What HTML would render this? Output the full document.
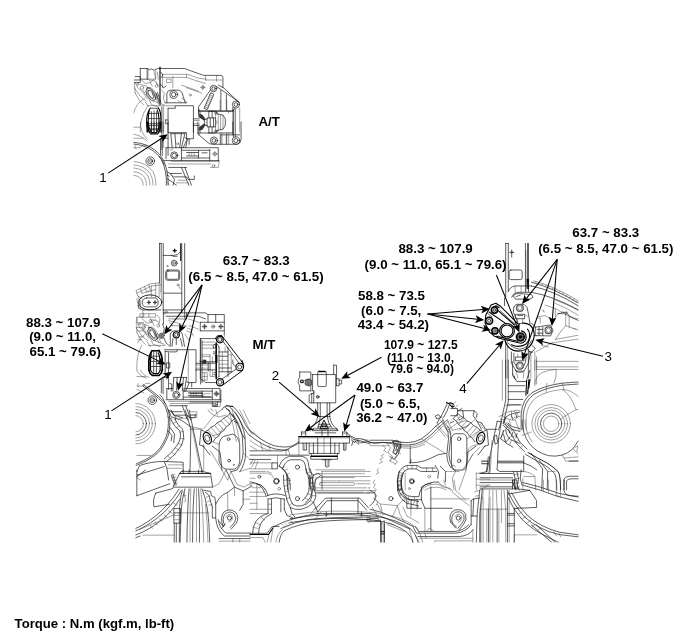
<!DOCTYPE html>
<html><head><meta charset="utf-8"><title>Torque</title>
<style>
html,body{margin:0;padding:0;background:#fff;}
svg{display:block}
svg text{font-family:"Liberation Sans",Arial,sans-serif;fill:#000}
.d,.k,.l,.w,.b,.g{vector-effect:non-scaling-stroke;stroke-linejoin:round;stroke-linecap:round}
.d{fill:none;stroke:#1a1a1a;stroke-width:.7}
.k{fill:none;stroke:#000;stroke-width:1.1}
.l{fill:none;stroke:#444;stroke-width:.5}
.w{fill:#fff;stroke:#1a1a1a;stroke-width:.7}
.b{fill:#000;stroke:#000;stroke-width:.5}
.g{fill:#888;stroke:#000;stroke-width:.6}
</style></head><body>
<svg width="700" height="637" viewBox="0 0 700 637">
<rect width="700" height="637" fill="#fff"/>
<defs><clipPath id="cm"><rect x="135.5" y="240" width="443" height="302.5"/></clipPath><clipPath id="ci"><rect x="133.5" y="64" width="112" height="121.5"/></clipPath></defs>
<g clip-path="url(#ci)">
<g transform="translate(130,62) scale(0.171429)">
<!-- top contour -->
<path class="d" d="M60,38 H105 L112,46 L125,40 L140,48 L160,38 H320 L350,50 L430,78 H535 L542,90 V150"/>
<path class="d" d="M60,38 V100 M100,40 V100 M60,100 H105 M30,85 H60 V120 H25 M25,105 H60"/>
<path class="l" d="M190,72 H335 L400,95 L445,100 M190,72 V150 M190,90 H330 L395,112 M215,100 H240 V120 H215 Z M250,85 V150 M330,90 V72"/>
<path class="l" d="M440,78 V105 M505,78 V112 M440,105 H535 M300,135 L400,170 M330,150 L420,182 M395,112 L440,125"/>
<path class="k" d="M175,30 V250"/>
<path class="d" d="M180,60 L192,75 L183,90 M178,130 L195,150 L210,140"/>
<!-- crosshair small -->
<circle class="l" cx="425" cy="148" r="9"/><path class="l" d="M412,148 H438 M425,135 V161"/>
<circle class="l" cx="352" cy="193" r="6"/>
<!-- bracket right with bolts -->
<circle class="d" cx="487" cy="155" r="19"/><circle class="d" cx="487" cy="155" r="10"/>
<circle class="d" cx="618" cy="248" r="21"/><circle class="d" cx="618" cy="248" r="11"/>
<path class="d" d="M503,142 L632,230 M468,165 L400,262 V300 M515,135 L545,150 L640,240 M600,265 V285 M530,165 V280 M562,190 V280 M400,285 H600 L612,270"/>
<!-- spring -->
<path class="d" d="M470,182 L432,270 L450,278 L488,190 Z"/>
<path class="l" d="M466,192 L484,200 M462,202 L480,210 M458,212 L476,220 M454,222 L472,230 M450,232 L468,240 M446,242 L464,250 M442,252 L460,260 M438,262 L456,270"/>
<!-- bolt housing top of box -->
<circle class="d" cx="255" cy="190" r="23"/><circle class="d" cx="255" cy="190" r="13"/>
<path class="d" d="M215,238 V182 Q218,166 238,164 H285 Q305,170 310,200 L322,238 M205,238 H330"/>
<path class="l" d="M280,225 L300,238 M300,210 L330,232"/>
<!-- mount box -->
<path class="d" d="M222,270 H264 V255 H370 V408 M222,270 V408 M186,262 V408"/><path class="l" d="M196,262 V408"/>
<path class="d" d="M208,338 H222 M208,338 V360 H222"/>
<!-- right verticals -->
<path class="l" d="M600,285 V408 M640,270 V408 M575,285 V300"/>
<!-- big arc -->
<path class="l" d="M20,300 Q35,240 85,212"/>
<path class="l" d="M60,408 Q55,330 100,262"/>
<!-- left mess -->
<path class="l" d="M30,120 L45,150 L75,175 L100,215 M60,130 L95,140 L130,170 L150,215 M25,150 L60,200 L95,230 M105,150 Q120,140 135,160 L160,200 Q150,225 125,215 L100,180 Z M75,165 L110,215 L125,250 M150,120 L165,135 M120,105 L150,112 L160,130 M145,190 L165,245 M155,185 L175,240 M185,165 L200,180 L195,215 L205,238 M140,230 L200,250 M100,255 H260"/>
<path class="d" d="M150,180 L170,235 M160,178 L180,235"/>
<path class="d" d="M100,150 Q85,170 100,195 L125,225 Q145,232 150,210 L135,170 Q120,145 100,150 M108,165 Q100,178 110,192 L128,212 Q138,214 138,202 L128,176 Q118,160 108,165"/>
<circle class="l" cx="70" cy="150" r="10"/><circle class="l" cx="45" cy="130" r="6"/><circle class="l" cx="155" cy="140" r="8"/>
<path class="l" d="M60,100 L90,125 L120,120 L140,100 M105,40 V100 H150 V45 M30,180 L55,225 L80,250 M90,235 L110,262 M25,120 L30,180 M130,250 L165,262 M110,100 L130,140 M160,60 L165,100 M140,55 L150,100"/>
<!-- vent grill -->
<path class="k" d="M118,270 Q95,300 97,360 L100,408 M165,268 Q182,290 180,340 V408 M112,285 Q104,320 106,408 M158,280 Q172,300 170,408"/>
<path class="d" d="M125,290 V408 M140,285 V408 M155,290 V408 M110,300 H170 M106,330 H172 M106,360 H172 M106,390 H172 M118,270 H165"/>
</g>
<g transform="translate(130,122) scale(0.171429)">
<!-- vent grill lower -->
<path class="k" d="M100,0 Q102,45 120,70 H160 Q178,55 180,0 M106,0 Q110,40 125,62 H155 Q170,45 170,0"/>
<path class="d" d="M125,0 V62 M140,0 V66 M155,0 V62 M108,20 H172 M112,45 H168"/>
<!-- mount box lower -->
<path class="d" d="M222,0 V195 M186,0 V160 M370,0 V98 H330 V62 H222 M345,98 V130"/><path class="l" d="M196,0 V150"/>
<path class="d" d="M238,68 H320 M238,68 L246,150 M320,68 L300,150 M262,68 L268,150 M300,68 L290,150"/>
<circle class="l" cx="278" cy="127" r="6"/>
<path class="d" d="M320,90 L335,98 L310,150 M335,98 L325,150"/>
<!-- lower bolt -->
<circle class="d" cx="258" cy="195" r="21"/><circle class="d" cx="258" cy="195" r="13"/>
<path class="d" d="M210,150 H515 V225 M200,225 H520 M300,165 H465 M300,210 H465 M465,160 V225 M300,150 V225 M330,178 H400 M330,198 H400 M400,165 V210 M420,180 H450 M210,150 V215"/>
<path class="l" d="M235,165 L250,160 M240,230 H520 L515,265 H470 M225,245 H470 M345,180 V196 M360,180 V196 M375,180 V196"/>
<circle class="l" cx="495" cy="186" r="10"/><path class="l" d="M482,186 H508 M495,173 V199"/>
<circle class="l" cx="487" cy="255" r="8"/>
<!-- right bracket lower -->
<circle class="d" cx="490" cy="108" r="21"/><circle class="d" cx="490" cy="108" r="11"/>
<circle class="d" cx="618" cy="108" r="22"/><circle class="d" cx="618" cy="108" r="12"/>
<path class="d" d="M396,0 V70 L462,126 L480,130 H625 Q648,125 648,100 V0 M600,0 V75 M530,75 H640 M530,75 V130 M562,75 V130"/>

<!-- arcs lower-left -->
<path class="d" d="M20,128 Q110,135 165,195 Q205,240 212,330 V372 M20,118 Q115,125 172,188 Q214,235 222,330 V372"/>
<path class="l" d="M20,250 Q85,255 118,300 Q135,330 135,372 M20,268 Q75,272 102,310 Q117,335 117,372 M20,290 Q60,292 84,322 Q97,342 97,372 M20,310 Q50,313 68,335 Q77,350 77,372 M20,230 Q95,235 135,290 Q152,325 152,372"/>
<circle class="d" cx="118" cy="228" r="25"/><circle class="d" cx="118" cy="228" r="14"/><circle class="l" cx="118" cy="228" r="7"/>
<path class="l" d="M20,95 H75 M20,150 H60 L75,135 H100 M30,135 Q20,150 35,158 M20,70 Q60,75 100,110 M60,0 Q60,60 100,100 M20,30 H60"/>
<path class="d" d="M178,100 V190 M188,95 V195 M170,200 L185,215 L200,250 M195,95 H222"/>
<!-- bottom strut area -->
<path class="d" d="M215,290 L235,300 L260,335 L250,372 M300,265 L345,372 M320,265 L360,372 M235,300 H300 M260,320 H330 L340,335 H375 V315 M215,330 L240,345 L275,372 M225,265 H330 M215,310 L228,316"/>
<path class="l" d="M240,310 L255,320 M280,340 H330 M270,355 H340 M220,350 L230,372 M335,372 L345,372"/>
</g>
<g transform="translate(190,100) scale(0.0942)">
<path class="d" d="M35,200 H100 M35,270 H100 M95,100 V180 M95,290 V370 M95,120 H460 M95,350 H460 M460,100 V390 M480,100 V390"/>
<path class="l" d="M35,218 H100 M35,252 H100 M110,120 V150 M110,320 V350"/>
<path class="b" d="M100,150 L130,158 L162,205 L150,215 L100,182 Z M100,320 L130,312 L162,265 L150,255 L100,288 Z" style="fill:#333"/>
<path class="d" d="M150,210 Q168,235 150,260 M185,190 H272 V285 H185 Z M215,190 V285 M250,190 V285 M162,205 L185,200 M162,265 L185,272"/>
<path class="d" d="M200,120 H270 L300,150 L350,160 L375,200 V270 L350,310 L300,320 L270,350 H200 M200,120 V190 M200,285 V350 M235,120 V190 M235,285 V350"/>
<path class="l" d="M270,150 V190 M270,285 V320 M300,150 V320 M350,160 V310 M272,215 L290,235 L272,258 M325,155 V315"/>
<path class="d" d="M272,130 L282,150 M282,125 L292,148 M272,340 L282,320 M282,345 L292,322 M262,135 L270,150 M262,335 L270,320"/>
<path class="l" d="M320,100 V120 M390,100 V120 M320,350 V470 M340,350 V470 M390,350 V470 M410,350 V470 M320,0 V100 M390,0 V100"/>
</g>
</g>
<g clip-path="url(#cm)">
<g transform="translate(130,240) scale(0.171429)">
<!-- frame rail left, upper -->
<path class="d" d="M172,20 V250 M182,20 V300 M172,20 H182 M194,20 V408 M302,20 V408 M319,20 V408"/>
<path class="k" d="M296,22 V120"/>
<path class="k" d="M252,62 H270 M261,53 V71"/><circle class="d" cx="261" cy="62" r="4"/>
<path class="d" d="M194,90 H240 Q285,92 296,65 M240,90 Q250,100 275,95"/>
<circle class="d" cx="258" cy="135" r="17"/><circle class="l" cx="258" cy="135" r="9"/><path class="l" d="M248,130 L268,140 M250,142 L266,128"/>
<circle class="l" cx="218" cy="152" r="4"/>
<rect class="d" x="208" y="175" width="82" height="60" rx="12"/><rect class="d" x="214" y="181" width="70" height="48" rx="9"/>
<circle class="l" cx="280" cy="262" r="6"/><path class="l" d="M283,268 L295,287"/>
<path class="d" d="M194,310 H302 M194,408 H302"/>
<!-- connector lower-left -->
<ellipse class="d" cx="118" cy="364" rx="68" ry="44" style="fill:#fff;stroke-width:.95"/>
<rect class="d" x="72" y="338" width="92" height="52" rx="24"/>
<path class="d" style="stroke-width:.9" d="M100,364 H120 M110,354 V374 M136,364 H156 M146,354 V374"/>
<circle class="l" cx="110" cy="364" r="6"/><circle class="l" cx="146" cy="364" r="6"/>
<path class="l" d="M35,295 L120,255 L170,250 M40,310 L125,268 L180,262 M45,325 L70,345 M35,295 L45,325 M60,283 L70,310 M85,272 L95,300 M110,260 L118,290 M125,268 V330 M150,255 V335 M95,300 L150,290 M70,310 L120,300 M40,340 L50,400 M50,330 L62,400 M170,250 V335 M180,300 L188,362"/>
</g>
<g transform="translate(130,300) scale(0.171429)">
<path class="d" d="M194,58 V75 M302,58 V75 M319,58 V110 M50,30 V40 Q55,55 75,58 H180"/>
<path class="l" d="M62,0 V30 M75,58 V100 M75,100 H40 V130"/>
<!-- top contour of transmission -->
<path class="d" d="M195,75 H440 L455,85 H550 V200 M195,75 V140 M210,95 H400 L440,110 M410,130 H550 M410,180 H550 M410,130 V180 M330,75 V110 M455,85 V130 M500,85 V130"/>
<path class="l" d="M225,110 H330 M225,120 L300,140 M340,110 L400,130 M240,150 H330 M345,150 L400,170 M230,130 L250,150"/>
<circle class="l" cx="435" cy="155" r="10"/><path class="d" d="M422,155 H448 M435,142 V168"/>
<circle class="l" cx="485" cy="155" r="10"/><circle class="l" cx="485" cy="155" r="5"/>
<circle class="l" cx="530" cy="155" r="10"/><path class="d" d="M517,155 H543 M530,142 V168"/>
<circle class="l" cx="210" cy="70" r="7"/><path class="l" d="M205,78 L195,90"/>
<!-- bolts -->
<circle class="k" cx="270" cy="203" r="18" style="fill:#fff"/><circle class="d" cx="270" cy="203" r="10"/>
<circle class="g" cx="185" cy="207" r="14"/><circle class="w" cx="185" cy="207" r="6"/>
<path class="d" d="M235,270 V200 Q240,180 258,180 H285 Q305,185 308,215 L318,270 M250,225 L245,270 M295,225 L305,270 M270,225 V260"/>
<path class="l" d="M330,180 L360,190 L370,210 M320,200 L345,235 M335,165 L365,175"/>
<!-- bracket right bolts -->
<circle class="k" cx="525" cy="231" r="19" style="fill:#fff"/><circle class="d" cx="525" cy="231" r="11"/>

<path class="k" style="stroke-width:.95" d="M540,214 L662,372 M506,240 L500,222 Q508,202 535,207"/><path class="d" d="M544,244 L634,366"/>

<!-- housing right part -->
<path class="d" d="M410,225 H500 M410,225 V360 M410,360 H500"/>
<path class="l" d="M550,200 V215"/>
<!-- mount box top -->
<path class="d" d="M200,290 H385 V408 M205,300 H275 V290 M205,300 V408 M225,300 V408"/>
<path class="l" d="M340,290 V408"/>

<!-- vent grill top -->
<path class="k" style="stroke-width:1.7" d="M128,296 Q108,325 110,380 V408 M168,294 Q190,320 188,365 V408 M128,296 H168"/>
<path class="k" d="M124,314 Q118,345 120,408 M164,308 Q178,325 176,408"/>
<path class="d" d="M138,300 V408 M154,300 V408 M120,328 H176 M120,358 H178 M120,388 H178"/>
<!-- left mess -->
<path class="l" d="M40,130 L55,160 L85,185 L110,225 M70,140 L105,150 L140,180 L160,225 M35,160 L70,210 L105,240 M115,160 Q130,150 145,170 L170,210 Q160,235 135,225 L110,190 Z M85,175 L120,225 L135,260 M130,115 L160,122 L170,140 M150,240 L200,258 M105,265 H205 M40,130 V100 M40,160 H70 M45,180 H75 M150,200 L168,250 M160,196 L180,250"/>
<path class="l" d="M45,250 Q60,215 85,200 M40,408 Q35,320 70,262"/>
<path class="d" d="M110,160 Q95,180 110,205 L135,235 Q155,242 160,220 L145,180 Q130,155 110,160 M118,175 Q110,188 120,202 L138,222 Q148,224 148,212 L138,186 Q128,170 118,175"/>
<circle class="l" cx="80" cy="160" r="10"/><circle class="l" cx="55" cy="140" r="6"/><circle class="l" cx="165" cy="150" r="8"/><circle class="l" cx="120" cy="120" r="7"/>
<path class="l" d="M70,110 L100,135 L130,130 L150,110 M40,190 L65,235 L90,260 M100,245 L120,272 M35,130 L40,190 M140,260 L175,272 M120,110 L140,150 M60,100 H150 V80 H60 Z M80,80 V100 M110,80 V100 M50,215 H80 M45,232 H70 M160,90 L175,110 L170,135 M90,140 L75,175 L95,200"/>
<path class="d" d="M190,140 L200,170 L195,190 M195,215 L210,250 L230,268"/>
</g>
</g>
<g clip-path="url(#cm)">
<g transform="translate(130,350) scale(0.171429)">
<!-- vent grill bottom -->
<path class="k" style="stroke-width:1.7" d="M110,117 Q114,138 130,148 H170 Q186,135 188,117"/>
<path class="k" d="M120,117 Q124,130 136,137 H164 Q175,128 176,117"/>
<path class="d" d="M138,117 V137 M154,117 V137"/>
<!-- mount box lower -->
<path class="d" d="M205,117 V140 H225 M225,117 V230 M385,117 V190 H345 M360,190 V215 M215,75 H232 V105 H215 Z"/>
<path class="l" d="M340,117 V190"/>
<!-- tab -->
<path class="d" d="M255,160 H330 M255,160 L250,240 M330,160 L318,240 M275,160 L272,235 M312,160 L305,235 M330,185 L345,192 L325,240 M232,195 L245,200 L240,240"/>
<!-- lower bolt -->
<circle class="w" cx="270" cy="262" r="21"/><circle class="d" cx="270" cy="262" r="13"/>
<!-- horizontal block -->
<path class="d" d="M215,225 H250 M320,225 H525 V290 M210,290 H530 M310,240 H480 M310,275 H480 M480,232 V290 M310,225 V290 M340,250 H420 M340,265 H420 M420,240 V275 M215,225 V285"/>
<path class="l" d="M435,255 H465 M355,250 V265 M370,250 V265 M385,250 V265 M225,300 H530 L525,330 H485 M235,312 H485"/>
<circle class="l" cx="505" cy="257" r="10"/><path class="l" d="M492,257 H518 M505,244 V270"/>
<circle class="l" cx="495" cy="320" r="8"/>
<!-- right bracket lower -->
<path class="k" style="stroke-width:.95" d="M542,204 L659,118 M662,92 L652,66"/><path class="d" d="M536,170 L624,108"/>
<circle class="k" cx="640" cy="99" r="22" style="fill:#fff"/><circle class="d" cx="640" cy="99" r="12"/>
<circle class="k" cx="525" cy="188" r="21" style="fill:#fff"/><circle class="d" cx="525" cy="188" r="12"/>
<path class="d" d="M600,58 V80 L618,95 M410,58 V165 L440,190 H500 M663,95 L655,60"/>



<!-- left arcs and stuff -->

<circle class="d" cx="130" cy="293" r="25"/><circle class="d" cx="130" cy="293" r="14"/><circle class="l" cx="130" cy="293" r="7"/>

<path class="l" d="M40,155 H90 M40,210 H75 L90,195 H115 M48,195 Q38,210 52,218 M40,117 Q50,150 95,165 M60,117 Q70,145 110,160 M40,230 L80,250"/>
<path class="d" d="M183,165 V250 M193,160 V255 M175,262 L190,278 L205,312 M200,160 H225"/>
<!-- bottom strut -->
<path class="d" d="M222,350 L242,360 L268,395 L265,408 M305,325 L335,408 M325,325 L355,408 M242,360 H305 M268,380 H335 L345,395 H380 V375 M222,390 L245,405 M232,325 H335"/>
<path class="l" d="M248,370 L262,380 M285,398 H335 M228,405 L232,408"/>
</g>
</g>
<g clip-path="url(#cm)">
<g transform="translate(250,360) scale(0.171429)">
<!-- part 2 body -->
<path class="d" d="M365,85 H500 V250 H345 V205 L360,195 H372 V180 M365,85 V180 M290,70 H355 V85 M290,70 V100 Q272,125 290,150 V180 H355 M355,85 V180 M372,180 V250 M360,195 V250"/>
<rect class="d" x="395" y="65" width="50" height="90" rx="8"/><path class="k" d="M402,68 H438"/>
<path class="d" d="M488,30 H505 V110 M488,30 V85 M505,110 H520 V150 H505 M520,118 H535 V140 H520 M505,150 V110"/>
<circle class="k" cx="303" cy="125" r="8"/>
<path class="g" d="M325,115 L345,110 L358,118 V145 L345,152 L325,145 Z"/><path class="l" d="M332,113 V148 M340,111 V150 M350,113 V149"/>
<path class="l" d="M312,118 L325,122 M312,132 L325,138"/>
<circle class="d" cx="395" cy="215" r="8"/><path class="l" d="M388,215 H402 M395,208 V222"/>
<!-- stem -->
<path class="d" d="M395,250 V330 M410,250 V330 M450,250 V330 M465,250 V330"/>
<!-- cone -->
<path class="d" d="M395,330 Q390,378 338,412 M465,330 Q470,378 512,408 M395,330 H465 M410,330 Q408,365 395,400 M450,330 Q455,370 480,400"/>
<path class="d" style="fill:#fff;stroke-width:1" d="M409,398 L432,350 L456,398 Z"/><path class="d" d="M420,384 H444 M424,372 H440 M422,378 V392 M442,378 V392"/>
<path class="d" d="M412,388 H452 M408,402 H455"/>
</g>
<g transform="translate(250,420) scale(0.171429)">
<!-- cone base -->
<path class="d" d="M372,52 H505 M365,62 H512 M395,40 H470 M400,25 H465 M370,48 L365,62 M505,48 L512,62 M380,75 H500 M420,62 V95 M455,62 V95"/>
<!-- plate -->
<path class="k" d="M285,97 H580"/><path class="l" d="M290,104 H575"/>
<path class="d" d="M285,96 V135 H580 V96 M300,70 H325 V95 M300,70 V95 M540,70 H565 V95 M540,70 V95 M310,135 V175 H330 V135 M545,135 V175 H560 V135"/>
<path class="l" d="M320,135 V175 M552,135 V175 M300,80 H325 M540,80 H565"/>
<!-- body -->
<path class="d" d="M345,135 V195 H520 V135 M370,135 V195 M395,105 V195 M470,105 V195 M495,135 V195 M355,195 L360,210 H508 L512,195"/>
<path class="k" d="M355,212 H510"/><path class="d" d="M360,229 H505"/>
<path class="d" d="M355,212 V229 M510,212 V229 M440,232 V270 Q450,280 460,270 V232 M420,232 H475"/>
<path class="l" d="M345,150 H520 M432,105 V195 M450,240 V268"/>
<!-- cable to right -->
<path class="d" d="M565,75 L590,95 L615,108 L650,110 L700,128 M580,92 L600,112 L640,120 L700,140"/>
<path class="l" d="M600,120 L615,135 M610,118 L628,140 M655,112 L690,118"/>
<!-- subframe left contours -->
<path class="d" d="M0,60 Q60,120 140,150 Q210,165 250,150 Q275,135 285,128 M0,90 Q70,150 150,170 Q200,178 225,175 M0,180 H150 Q185,185 210,175 L285,135 M0,205 H345 M0,230 H120 M130,250 H160 V285 H130 Z"/>
<path class="l" d="M0,120 Q50,160 110,178 M20,70 L60,110 M0,150 L40,175 M60,130 L75,178 M110,148 L118,180 M225,175 L232,205 M210,175 V205 M160,205 V250 M285,135 V205 M0,250 H130 M0,285 H130 M20,230 L0,260 M30,235 L10,275 M45,240 L30,285"/>
<!-- hose curve -->
<path class="d" d="M170,270 Q185,225 230,212 H300 Q335,215 340,250 L348,300 L372,322 M190,285 Q200,245 235,232 H295 Q318,236 322,262 L330,310 L355,335 M170,270 Q200,280 215,320 Q225,360 220,408 M190,285 Q215,305 228,345 Q238,380 235,408 M372,322 L400,310 L412,325 L385,345 M355,335 L350,380 L365,408 M385,345 L375,380 L380,408"/>
<path class="l" d="M172,272 L192,284 M185,280 L200,272 M200,295 L218,288 M210,318 L228,312 M216,345 L234,340 M220,375 L238,372 M340,335 L360,340 M345,360 L372,365 M350,385 L375,390"/>
<circle class="d" cx="277" cy="275" r="12"/>
<circle class="d" cx="155" cy="355" r="15"/>
<circle class="l" cx="55" cy="330" r="8"/><circle class="l" cx="230" cy="352" r="5"/>
<path class="l" d="M0,310 H100 Q130,315 140,340 M0,340 H30 M0,372 Q40,365 70,385 L90,408 M15,395 H60 M100,300 L125,310 M0,300 H90"/>
<!-- right side horizontals -->
<path class="l" d="M420,300 H700 M420,330 H700 M420,355 H520 M420,300 V408 M380,408 V345"/>
<rect class="l" x="405" y="365" width="205" height="16" rx="8"/>
<path class="l" d="M620,372 H700 M520,355 H700"/>
</g>
</g>
<g clip-path="url(#cm)">
<g transform="translate(190,390) scale(0.171429)">
<path class="k" d="M212,92 L250,96"/>
<path class="d" d="M212,92 Q190,100 185,115 M250,96 Q292,130 322,200 Q350,245 365,258 M232,100 Q275,135 305,205 Q335,255 350,268 M205,100 Q250,135 285,215 Q300,255 320,285"/>
<path class="l" d="M185,115 Q150,130 120,175 L80,225 M245,110 L268,200 L290,300 M225,115 L250,200 L270,300 M120,110 L135,120 M0,160 H40 V148 H0"/>
<path class="d" d="M0,40 H120 M0,70 H180 V0 M130,70 V95 H160 V70 M0,20 H75 V40"/>
<circle class="l" cx="153" cy="20" r="10"/><path class="l" d="M140,20 H166 M153,7 V33"/><circle class="l" cx="145" cy="85" r="8"/>
</g>
</g>
<g clip-path="url(#cm)">
<g><path class="d" d="M143.0,384.5 C144.6,385.6 149.3,388.9 152.3,391.3 C155.3,393.7 158.8,396.5 161.1,398.8 C163.4,401.1 164.8,402.4 166.2,405.1 C167.6,407.8 168.7,412.3 169.3,415.2 C169.9,418.1 170.0,419.8 169.9,422.7 C169.8,425.6 169.5,429.9 168.9,432.8 C168.3,435.7 167.5,437.6 166.2,440.3 C164.9,443.0 163.0,446.6 161.1,449.1 C159.2,451.6 157.3,453.4 154.8,455.4 C152.3,457.4 149.1,459.3 146.0,461.0 C142.9,462.7 137.7,464.8 136.0,465.5"/><path class="d" d="M142.7,386.0 C144.2,387.1 148.7,390.3 151.6,392.6 C154.5,394.9 157.8,397.6 160.0,399.8 C162.2,402.1 163.6,403.3 164.9,405.9 C166.2,408.5 167.3,412.8 167.9,415.6 C168.4,418.4 168.5,420.0 168.4,422.8 C168.3,425.6 168.0,429.7 167.4,432.5 C166.8,435.3 166.1,437.1 164.8,439.7 C163.6,442.3 161.8,445.7 160.0,448.1 C158.2,450.5 156.4,452.2 154.0,454.2 C151.5,456.1 148.5,457.9 145.5,459.6 C142.5,461.2 137.5,463.3 135.9,464.0"/></g>
</g>
<g clip-path="url(#cm)">
<g transform="translate(195,335) scale(0.0942)">
<path class="k" style="stroke-width:1.5" d="M225,85 V200 M225,300 V465"/><path class="k" style="stroke-width:2.2" d="M226,215 V290"/>
<path class="d" d="M255,130 V440 M350,130 V440 M255,180 H350 M255,225 H350 M255,350 H385 M255,390 H385 M240,100 L255,130 M240,455 L255,440"/>
<path class="l" d="M290,180 V390 M385,200 V400 M320,130 V180 M255,270 H350 M255,310 H350 M350,200 L385,215 M350,400 L385,385"/>
<path class="d" d="M10,300 H215 M10,370 H215 M140,288 V382 M160,300 V370 M60,40 V520 M75,60 V505"/>
<path class="b" style="fill:#333" d="M88,265 L115,265 L118,300 L85,300 Z"/>
<path class="l" d="M60,75 H210 M75,105 H200 M75,140 H195 M75,210 H160 M75,230 H160 M160,210 V300 M185,230 V300 M75,400 H130 V480 H75 M75,440 H130 M100,400 V480 M160,370 V440 H210 M185,370 V440 M10,318 H140 M10,352 H140"/>
<path class="d" d="M195,110 L215,95 L225,130 L200,140 Z M195,180 H225 M195,200 H225 M200,400 L225,395 M200,420 L225,425"/>
</g>
</g>
<g clip-path="url(#cm)">
<g>
<rect x="136.5" y="322" width="7.5" height="1.8" fill="#aaa"/>
<rect x="167.5" y="351.2" width="9" height="1.5" fill="#aaa"/>
<rect x="172" y="318.2" width="14" height="1.4" fill="#bbb"/>
<rect x="159" y="333" width="5" height="6" rx="2.5" fill="#777"/>
</g>
</g>
<g clip-path="url(#cm)">
<g transform="translate(480,240) scale(0.171429)">
<!-- right frame rail upper -->
<path class="d" d="M150,20 V330 M165,20 V300 M265,20 V300 M150,20 H165"/>
<path class="d" d="M277,20 V240 M283,20 V300"/><path class="l" d="M268,60 V300"/>
<path class="b" d="M274,228 L284,228 L283,285 L276,285 Z"/>
<circle class="l" cx="185" cy="72" r="6"/><path class="d" d="M173,72 H197 M185,58 V100"/>
<rect class="d" x="170" y="175" width="76" height="56" rx="10"/>
<!-- fender arcs -->
<path class="d" d="M300,246 Q420,276 575,368"/><path class="l" d="M312,238 Q430,268 575,356"/>
<path class="l" transform="translate(0,6)" d="M320,240 L328,236 M340,247 L348,242 M360,254 L368,249 M380,262 L388,257 M400,270 L408,265 M420,279 L428,274 M440,289 L448,283 M460,299 L468,293 M480,310 L488,304 M500,321 L508,315 M520,333 L528,327 M540,345 L548,339 M560,357 L566,351"/>
<path class="d" d="M165,300 Q175,272 205,268 H300 M185,335 Q195,308 222,305 H300 Q420,325 575,408 M300,268 Q430,295 575,385"/>
<path class="l" d="M205,268 V305 M240,268 V305"/>
<!-- small clip -->
<path class="d" d="M195,325 Q200,310 225,312 L300,318 L310,335 L290,345 H210 Z M210,330 L235,322"/>
</g>
<g transform="translate(480,298) scale(0.125589)">
<!-- frame rail through mount -->
<path class="d" d="M205,250 V637 M385,410 V637 M195,0 V60"/><path class="l" d="M220,330 V637 M405,430 V637"/>
<!-- top bolt housing -->
<path class="d" d="M270,72 L290,50 H350 L375,75 L390,150 L398,205 M270,72 L265,112 L290,165 L300,200 M285,130 H355 V165 H285 Z M300,140 H340"/>
<circle class="w" cx="318" cy="80" r="27" style="stroke:#555;stroke-width:1.2"/><circle class="l" cx="318" cy="80" r="17"/>
<path class="l" d="M300,165 V195 M340,165 V195 M355,130 L385,150"/>
<!-- right bolt housing -->
<path class="d" d="M440,232 L560,215 L582,258 L562,302 L450,300 M440,232 V300 M470,235 V298 M500,232 V298 M455,250 H500 M455,280 H500 M410,200 L440,232"/>
<circle class="w" cx="545" cy="257" r="27" style="stroke:#555;stroke-width:1.2"/><circle class="l" cx="545" cy="257" r="17"/>
<path class="l" d="M445,160 H480 V200 M500,100 L510,105 M460,150 L520,140 L560,165 L575,215"/>
<!-- bottom bolt housing -->
<path class="d" d="M250,430 V520 L290,582 H350 L385,520 L400,440 M270,440 V510 L300,560 M370,445 L362,510 L340,560 M285,470 H350 V500 H285 Z"/>
<circle class="w" cx="318" cy="540" r="27" style="stroke:#555;stroke-width:1.2"/><circle class="l" cx="318" cy="540" r="17"/>
<path class="l" d="M300,445 V470 M335,445 V470 M290,582 L300,637 M350,582 L345,637 M260,600 L275,637"/>
<!-- mount body crescent (part 3) -->
<path class="k" d="M198,338 Q215,395 262,415 Q315,435 372,405 Q425,370 432,300 Q432,245 398,215 Q370,198 340,200"/>
<path class="k" d="M250,372 Q310,400 365,368 Q398,335 395,290 Q392,262 378,248"/>
<path class="d" d="M225,360 Q260,400 315,408 Q380,400 412,340 M340,200 L300,205 M380,405 L400,440 M432,300 L450,300 M415,380 L440,400 L400,445 M395,425 L420,432"/>
<!-- bracket part 4 -->
<path class="k" d="M88,56 L126,42 L166,68 L302,206 M88,56 L46,138 L40,200 L76,272 L112,302 L152,320 L325,360 Q368,350 368,310 Q365,270 330,262"/>
<path class="k" d="M72,112 L218,212 M142,98 L275,215 M100,78 L128,62 L152,78 M130,305 L300,345"/>
<path class="d" d="M160,100 L285,215 M62,125 L95,150 M150,300 L165,318"/>
<circle class="k" cx="115" cy="96" r="25" style="fill:#bbb;stroke-width:1.5"/><circle class="w" cx="115" cy="96" r="9"/>
<circle class="k" cx="73" cy="181" r="28" style="fill:#ccc;stroke-width:1.5"/><circle class="w" cx="73" cy="181" r="12"/>
<circle class="k" cx="119" cy="261" r="25" style="fill:#bbb;stroke-width:1.5"/><circle class="w" cx="119" cy="261" r="9"/>
<circle class="k" cx="215" cy="262" r="59" style="fill:#fff"/><circle class="k" cx="215" cy="262" r="47"/>
<circle class="b" cx="322" cy="310" r="36"/><circle class="g" cx="322" cy="310" r="26"/><circle class="b" cx="322" cy="310" r="13"/>
</g>
</g>
<g clip-path="url(#cm)">
<g transform="translate(480,300) scale(0.171429)">
<!-- right side brackets near mount -->
<path class="l" d="M440,0 Q510,25 575,62"/>
<path class="l" d="M440,20 Q510,48 575,90 M380,30 L440,50 L500,85 M455,80 H500 V150 L470,185 M500,85 L560,110 L575,108 M500,150 L560,170 M520,95 V160 M440,50 V100 L455,80 M540,165 L575,175 M470,185 L440,230 M365,60 L375,70 M480,65 L488,72"/>
<path class="d" d="M455,80 L505,70 L520,95 L575,120 M505,70 L500,85"/>
<!-- horizontals below right bolt -->
<path class="l" d="M330,330 V408 M320,300 V408"/>
<path class="l" d="M440,230 L575,205 M420,250 L575,228 M360,265 L400,275 M330,300 L420,250"/>
</g>
<g transform="translate(480,360) scale(0.171429)">
<path class="l" d="M330,8 H575 M330,40 H575 M330,55 H575 M320,0 V150 M330,0 V140"/>
<!-- housing bottom -->
<path class="d" d="M190,10 V90 L215,125 H270 L290,62 M200,95 Q195,110 210,115 M205,60 L225,72 L250,70"/>
<path class="k" d="M272,120 L268,205 M285,115 L278,195"/>
<path class="k" d="M292,112 L284,165"/>
<!-- rail splay -->
<path class="d" d="M150,0 V235 L118,380 L108,408 M165,0 V245 L136,370 M165,150 H260 M165,185 H262 M165,230 H250 M160,262 H240"/><path class="l" d="M130,0 V235"/>
<path class="l" d="M130,322 Q150,300 185,298 M110,330 L130,322 L150,340 L135,370 M185,298 L215,305 L225,330 L200,350 L185,330 Z M150,340 L195,352 M135,370 L160,390 L150,408 M0,375 L30,408 M120,345 L145,350"/>
<!-- wheel arch -->
<path class="d" d="M240,408 V320 Q245,230 305,190 Q370,150 480,135 L575,128 M252,408 V322 Q258,242 312,202 Q378,162 482,147 L575,140"/>
<path class="l" d="M270,408 V330 Q278,255 330,218 Q390,180 480,172 Q530,172 575,215 M390,135 L385,190 M480,135 L490,172 M480,172 Q530,200 560,290 L575,288 M560,290 Q500,320 470,345"/>
<path class="l" d="M320,140 Q322,95 360,75 Q400,55 445,55 Q448,95 432,135"/>
<!-- hub circles -->
<circle class="l" cx="415" cy="372" r="45"/><circle class="d" cx="415" cy="372" r="62"/><circle class="l" cx="415" cy="372" r="80"/><circle class="l" cx="415" cy="372" r="95"/><circle class="l" cx="415" cy="372" r="112"/>
</g>
</g>
<g clip-path="url(#cm)">
<g transform="translate(370,420) scale(0.171429)">
<!-- subframe right upper contour -->
<path class="d" d="M0,118 H130 Q230,150 300,110 Q350,75 385,35 L430,0 M0,132 H125 Q230,165 310,122 Q360,88 395,48 L450,0"/>
<path class="l" d="M130,118 L140,150 M235,145 V250 M300,110 L440,195 M385,35 L440,100 M0,150 H110 M410,0 L470,70 M450,0 L480,60"/>
<path class="l" d="M130,140 Q230,175 315,132 Q368,98 402,58 L462,5 M140,150 Q232,185 320,142 M235,160 V250 M100,135 L120,160 L105,190 L135,215 L115,240 L150,255 M150,135 L175,150 L160,180 L180,200"/>
<path class="d" d="M135,130 L160,125 L182,150 L165,200 L142,230 L122,215 M150,140 L168,160 L150,200"/>
<!-- plate with two holes -->
<path class="d" d="M475,110 Q478,82 500,80 H540 Q562,82 565,110 V262 Q560,290 535,292 H505 Q478,290 475,262 Z"/>
<circle class="d" cx="520" cy="110" r="10"/><circle class="d" cx="520" cy="238" r="10"/>
<path class="d" d="M440,40 Q462,70 458,110 L448,200 Q450,250 470,275 L500,298 M452,35 Q475,65 470,110 L460,200 Q462,245 480,268"/>
<path class="l" d="M565,110 L590,95 L640,60 M565,200 Q570,160 600,150 L640,140 M565,262 L600,200 L640,160 M480,60 L560,40 L610,0 M520,60 L575,30 M540,292 L600,200 M470,275 L490,262 L498,275"/>
<!-- hose -->
<path class="d" d="M162,408 V330 Q170,280 215,265 H275 L300,280 H380 M182,408 V335 Q190,298 225,285 H270 L295,300 H390 M162,408 H182"/>
<path class="l" d="M162,385 H182 M162,360 H182 M164,335 L184,340 M172,305 L192,315 M190,282 L205,298 M215,265 L222,287 M245,265 V285 M275,265 L270,285 M330,280 V300 M365,280 V300"/>
<path class="d" d="M230,250 Q300,250 350,225 Q400,195 440,195 M240,232 L235,250 M380,265 L400,300 L395,340 M410,270 L440,300 V360"/>
<circle class="d" cx="243" cy="355" r="13"/><circle class="l" cx="345" cy="330" r="8"/>
<path class="l" d="M300,408 Q330,372 390,375 Q440,380 470,408 M320,408 Q345,390 390,392 Q425,395 445,408 M205,310 V408 M440,300 L520,300 M500,298 L480,340 L490,408 M560,292 L520,408"/>
<!-- right section near strut -->
<path class="d" d="M655,240 H690 M655,255 H690 M690,215 L680,300 M700,215 L695,310"/>
<path class="l" d="M620,310 H700 M620,345 H700 M620,380 H700 M620,310 V408"/>
</g>
<g transform="translate(370,480) scale(0.171429)">
<path class="d" d="M160,0 Q160,60 185,90 Q205,112 240,115 H300 M180,0 Q182,55 200,78 Q215,95 245,97 H285 Q290,40 340,20 Q375,8 400,12"/>
<path class="l" d="M160,25 H180 M163,55 L183,48 M175,82 L195,70 M195,105 L210,90 M225,115 V97 M260,115 V97"/>
<circle class="d" cx="122" cy="108" r="12"/><circle class="d" cx="245" cy="10" r="12"/><circle class="l" cx="230" cy="50" r="6"/>
<path class="d" d="M300,115 V40 Q320,22 355,20 M355,40 V300 M300,115 L320,165 H480 M215,115 V165 H300 M240,115 V165 M275,115 V165"/>
<path class="l" d="M400,12 L420,40 L470,50 L490,80 L580,150 M430,0 L440,30 M490,0 L500,60 L560,120 M355,110 H580 M320,165 V300"/>
<!-- bushing loop -->
<circle class="d" cx="515" cy="222" r="12"/>
<path class="d" d="M470,245 Q455,195 495,175 Q540,165 558,200 Q568,235 545,260 L520,290 M480,250 Q468,205 500,188 Q535,178 548,208 Q555,235 535,255 L512,282 M470,245 L500,280 M480,250 L505,275"/>
<path class="l" d="M495,215 Q500,200 520,200 Q538,205 535,225 Q530,245 515,248"/>
<!-- lower-left diagonal band -->
<path class="d" d="M0,170 Q70,185 130,215 Q200,245 250,270 M0,195 Q70,210 125,238 L230,285 M0,150 Q40,120 30,80 L0,60 M0,240 H60 M0,225 H45"/>
<path class="l" d="M20,105 L60,140 L160,150 L190,120 M60,140 L70,180 M160,150 L175,200 L200,245 M190,120 L215,115 M130,215 L160,150 M30,245 Q45,225 60,240 L70,255 M100,260 L200,300 M110,250 L140,262"/>
<path class="d" d="M68,250 V365 M84,255 V365 M68,300 H84 M68,310 H84"/>
<!-- bottom lines -->
<path class="d" d="M250,270 L270,310 H500 Q560,305 590,260 M265,270 L285,300 H495 Q545,295 575,262 M280,330 H520 Q580,325 600,290"/>
<path class="l" d="M290,340 H600 M380,355 H600 M380,355 Q370,360 375,365 M330,300 L345,280 L370,295 M320,310 L328,340 M230,285 L250,365 M265,330 L290,365"/>
<!-- right verticals -->
<path class="d" d="M590,120 V260 M605,110 L600,210 M590,120 L605,110 L640,105 M640,60 L625,200 L620,365 M655,55 L640,200 V365 M590,210 H625"/>
<path class="l" d="M610,70 L640,60 L690,30 M615,95 L635,90 M660,100 V365 M700,100 V365 M600,290 V365"/>
</g>
</g>
<g clip-path="url(#cm)">
<g transform="translate(480,420) scale(0.171429)">
<!-- big arc around hub -->
<path class="d" d="M245,0 Q245,80 290,140 Q330,190 400,208 Q480,222 540,170 L575,120"/>
<path class="l" d="M262,0 Q265,75 305,128 M300,70 L245,90 M480,205 L490,222 L575,215 M490,222 L500,240 L575,238 M545,170 L575,200 M555,160 L570,150 L565,185"/>
<!-- strut -->
<path class="d" d="M100,8 L40,300 M125,8 L108,110 L100,290 M100,8 H125 M0,312 H190 M0,337 H190 M40,300 L0,312 M100,290 L115,300 H250"/>
<path class="l" d="M108,110 L125,100 L135,60 M10,240 H40 M10,255 H38 M10,240 V255 M70,120 L60,300"/>
<path class="g" d="M105,240 H255 V250 H105 Z" style="stroke:none;fill:#c4c4c4"/>
<path class="d" d="M105,240 H255 M105,250 H255 M255,210 V300"/>
<!-- ribbed pieces near top-left -->
<path class="d" d="M135,30 L175,70 L215,140 L260,185 M155,20 L195,60 L232,128 L275,170 M140,60 L120,110 L150,130 L175,100"/>
<path class="l" d="M150,45 L168,35 M170,70 L190,58 M190,100 L210,90 M205,130 L225,118 M232,165 L250,150 M170,0 L180,30 M205,0 L230,60"/>
<!-- thick diagonal -->
<path class="d" style="stroke-width:.95" d="M280,190 Q340,225 390,250 Q430,275 455,300 Q470,320 470,408"/>
<path class="d" d="M265,200 Q330,240 380,265 Q415,288 435,312 Q448,335 448,408 M300,195 L365,285 L360,408 M345,235 L395,300 L392,408 M255,250 Q300,265 330,290"/>
<path class="l" d="M395,300 H440 M255,300 Q300,305 320,330 L325,408 M255,330 H320"/>
<path class="d" d="M490,408 V345 Q495,330 520,328 H575 M575,240 H520 M505,408 V355 Q510,345 530,343 H575"/>
<!-- coil dark bottom-left -->
<path class="d" d="M195,300 L205,340 L198,380 L210,408 M215,300 L225,345 L218,380 L228,408 M240,290 L235,340 L245,380"/>
<path class="l" d="M195,320 L225,315 M200,345 L228,340 M198,370 L225,365 M205,395 L230,390 M190,350 H0 M250,340 V408"/>
</g>
<g transform="translate(480,480) scale(0.171429)">
<path class="d" d="M0,15 H190 M0,40 H190 M0,52 H205 M190,0 V52"/>
<path class="d" d="M192,0 L215,0 L218,50 L205,52 Z M200,0 L208,50"/>
<!-- shock absorber verticals -->
<path class="d" d="M5,170 V365 M50,170 V365 M100,170 V365 M160,60 V365 M200,165 V365"/><path class="l" d="M40,170 V365 M110,170 V365 M150,170 V365"/>
<path class="l" d="M20,60 L5,170 M55,60 L50,170 M95,60 L100,170 M140,60 L150,170 M0,170 H160 M75,60 V365 M125,60 V250 M170,60 V365"/>
<path class="d" d="M160,195 H200 M160,205 H200 M160,255 H200 M160,268 H200"/>
<!-- box -->
<path class="d" d="M165,82 L290,60 L330,120 V160 L200,166 M215,52 L290,60"/>
<!-- curved ribbed band -->
<path class="d" d="M165,70 Q200,150 260,215 Q340,290 460,318 L575,332"/>
<path class="d" d="M185,75 Q220,150 275,205 Q350,275 465,305 L575,320 M165,105 Q195,175 245,230 Q310,295 400,335 L460,365 M330,262 L440,365 M300,262 L420,365"/>
<path class="l" d="M205,170 L225,160 M225,198 L245,186 M248,225 L268,212 M275,250 L295,236 M305,272 L322,258 M340,292 L352,278 M430,300 L445,325 M460,310 L470,330 M200,320 H330 M200,320 V365"/>
<!-- lines to top right -->
<path class="d" d="M250,30 Q350,55 450,95 L575,125 M250,15 Q360,40 460,78 L575,100 M490,0 V60 Q495,90 530,92 L575,95"/>
<path class="l" d="M370,0 V62 M400,0 V72 M445,0 V88 M470,0 V95 M445,88 L470,100"/>
</g>
</g>
<g clip-path="url(#cm)">
<g transform="translate(130,410) scale(0.171429)">
<!-- hub circles left -->
<circle class="l" cx="30" cy="80" r="48"/><circle class="d" cx="30" cy="80" r="66"/><circle class="l" cx="30" cy="80" r="84"/><circle class="l" cx="30" cy="80" r="100"/><circle class="l" cx="30" cy="80" r="118"/>
<!-- big arcs -->

<path class="l" d="M40,265 H120"/>
<!-- strut -->
<path class="d" d="M322,0 L355,110 L350,358 M345,0 L420,358 M290,370 H470 M350,358 H420 M300,358 L290,370 M300,358 H350 M420,358 L470,370"/>
<path class="l" d="M362,100 L408,340 M355,110 H372 M330,40 L350,30 M350,10 H390 V28 H355"/>
<!-- ribbed hose -->
<path class="d" d="M240,60 Q260,100 290,120 Q305,160 275,205 Q245,250 200,285 M262,55 Q280,90 305,110 Q325,160 295,215 Q262,265 215,300"/>
<path class="l" d="M250,80 L272,68 M268,105 L290,92 M290,130 L312,125 M292,165 L318,168 M282,195 L305,205 M265,222 L288,235 M245,248 L265,262 M222,270 L240,285"/>
<path class="d" d="M225,0 L240,40 L300,60 L350,95 M240,0 L255,30 L305,45 M232,100 L260,140 L255,190 M222,120 L245,150 L240,180"/>
<!-- dark connector -->


<path class="l" d="M420,112 H350 M350,95 L420,112 M480,150 L520,140 L540,110 M480,185 L520,200 M455,0 Q470,30 520,40 L560,30 M500,0 L510,30"/>
<!-- plate two holes -->
<path class="d" d="M520,220 Q515,175 545,155 L600,140 Q630,150 640,200 V300 Q635,335 610,345 H560 Q530,335 520,300 Z"/>
<circle class="d" cx="575" cy="170" r="8"/><circle class="d" cx="578" cy="295" r="8"/><circle class="l" cx="605" cy="320" r="4"/>
<path class="d" d="M600,25 Q640,80 655,150 L660,250 Q655,310 625,350 L590,360 M615,15 Q655,75 670,150 L675,250 Q672,318 640,360"/>
<path class="l" d="M640,0 L700,120 M660,0 L700,80 M660,250 L700,290 M640,360 L700,340 M590,360 L570,408 M470,240 L570,408 M430,200 V358"/>
<!-- bottom left -->
<path class="d" d="M40,360 L55,325 Q120,300 200,300 L215,340 L225,408 M200,300 L310,305 V358 M40,380 L200,330"/>
<path class="l" d="M215,340 H300 M225,320 H310 M60,408 L40,395"/>
</g>
<g transform="translate(130,470) scale(0.171429)">
<!-- strut foot -->
<path class="d" d="M290,20 H470 L482,100 H250 L290,20 M300,40 H465 M310,0 V20 M345,0 V20 M400,0 V20 M420,0 V20"/>
<path class="d" d="M242,32 L262,90 M250,28 L270,88"/>
<path class="l" d="M240,30 L262,25 M245,45 L268,40 M250,62 L272,58 M255,80 L276,75"/>
<!-- shock cone -->
<path class="d" d="M320,110 Q300,180 298,250 L292,425 M345,110 Q335,200 332,425 M375,110 Q365,220 365,425 M400,110 Q408,220 405,425 M420,110 Q440,160 450,220 Q462,300 465,425 M305,120 Q290,170 288,250 V425"/>
<path class="l" d="M355,110 Q350,200 350,425 M388,105 V425 M412,110 Q425,200 430,425 M440,200 Q452,300 455,425 M300,250 H460 M315,130 L325,180 L315,185 M310,150 H325"/>
<path class="d" d="M430,118 L470,125 L475,150 L495,160 L500,200 V280 H480 V215 M440,130 L462,150 L470,185 L480,215 M258,225 H295 V310 H258 Z M258,250 H295 M258,310 V425 M270,310 V425"/>
<path class="l" d="M445,160 L465,150 M452,185 L472,178 M460,205 L480,200 M258,265 H295 M258,290 H295"/>
<!-- left box and curve band -->
<path class="d" d="M150,135 L250,108 M150,135 Q130,180 140,215 L230,200 M40,150 L232,80 M40,0 V150 M40,40 L90,0"/>
<path class="d" d="M20,362 Q120,320 200,245 Q270,175 300,118"/>
<path class="d" d="M20,348 Q115,305 190,232 Q255,165 285,112 M20,385 Q130,345 215,265 Q260,220 290,170 M20,400 L60,385"/>
<path class="l" d="M225,238 L245,252 M200,262 L218,278 M172,285 L190,300 M145,305 L160,322 M118,322 L130,340 M60,345 L260,260 M75,380 H258 M250,190 L275,205"/>
<!-- right bushing loop -->
<circle class="d" cx="580" cy="280" r="12"/>
<path class="d" d="M545,330 Q520,280 548,245 Q580,220 615,245 Q640,275 620,310 L590,345 M552,322 Q532,282 556,255 Q582,235 608,256 Q626,280 610,305 L585,335 M545,330 L520,300 M535,340 L555,315"/>
<path class="l" d="M560,275 Q565,258 585,258 Q602,265 598,285 Q592,302 575,302"/>
<path class="d" d="M515,290 Q520,340 560,368 H700 M500,280 Q505,350 550,385 H700 M520,400 H700"/>
<path class="l" d="M520,415 H700 M600,400 V425 M640,400 V425"/>
<!-- right top polygon -->
<path class="d" d="M560,0 L610,100 L660,122 L700,100 M500,200 Q520,150 570,130 L610,100 M660,122 V200 L640,235"/>
<path class="l" d="M585,0 L625,85 L665,100 L700,80 M570,130 V235 M610,100 V150 M482,100 L520,80 L560,0 M700,170 H660"/>
</g>
</g>
<g clip-path="url(#cm)">
<g transform="translate(250,475) scale(0.171429)">

<path class="l" d="M380,75 H680 M380,100 H660 M395,105 H700 M690,75 H700 M420,0 V75"/>
<!-- raised trapezoid -->
<path class="d" d="M380,200 L440,135 H640 L690,190 M395,215 L448,150 H632 L680,205 M390,225 H700 M445,215 V240 M650,215 V240 M475,135 V225 M630,135 V225"/>
<path class="l" d="M435,225 L445,240 L455,225 M640,225 L650,240 L660,225 M690,250 H700 V275 H690 Z"/>
<!-- bottom arcs -->
<path class="d" d="M140,300 Q200,268 280,248 Q340,232 400,225 M180,312 Q260,275 340,260 Q420,248 700,245 M170,395 Q175,345 200,325 Q280,285 400,272 Q500,262 700,260"/>
<path class="l" d="M150,395 Q158,340 190,318 M190,290 L205,305 M205,283 L220,298 M222,276 L236,292 M240,270 L252,286 M0,200 H100 M0,165 H40"/>
<!-- left ribbed band -->
<path class="d" d="M100,120 Q150,100 205,120 M105,140 Q150,125 200,140 M105,140 V225 M125,140 V225 M180,140 V215 M200,140 V200 M40,50 Q90,60 105,120 M0,40 Q60,45 85,100 L95,125"/>
<path class="d" d="M105,225 Q60,235 35,270 Q15,300 15,340 M125,225 Q85,245 65,280 Q50,310 50,340 M0,340 H100 L130,300 H170"/>
<path class="k" d="M0,347 H108 L135,308"/>
<path class="l" d="M30,275 L58,290 M18,305 L48,312 M65,245 L85,262 M105,170 H125 M105,200 H125 M0,365 H75 L90,395 M110,350 L100,395 M135,308 L120,395"/>
<circle class="d" cx="153" cy="38" r="15"/><circle class="d" cx="277" cy="138" r="12"/><circle class="l" cx="170" cy="80" r="8"/><circle class="l" cx="55" cy="10" r="8"/><circle class="l" cx="5" cy="65" r="6"/>
<!-- hose -->
<path class="d" d="M195,0 Q195,60 205,100 Q215,160 235,190 Q260,205 300,200 Q345,190 370,160 Q392,125 378,95 Q355,50 370,0 M215,0 Q215,60 225,100 Q232,150 250,172 Q270,185 300,180 Q335,172 352,150 Q368,120 358,95 Q338,50 350,0"/>
<path class="l" d="M195,30 H215 M198,65 L218,62 M205,100 L225,95 M212,140 L232,130 M228,180 L245,165 M352,150 L372,160 M360,120 L385,122 M355,90 L378,85 M348,55 L368,48 M350,20 L370,15"/>
<path class="d" d="M200,200 L215,235 L250,250 M235,190 L245,225 L262,245 M370,160 L395,215"/>
<path class="l" d="M0,100 H85 M0,125 H95 M40,50 V200 M0,225 H105"/>
</g>
</g>
<g clip-path="url(#cm)">
<g transform="translate(420,380) scale(0.142857)">
<path class="k" d="M185,158 L200,165 L215,160 L235,170 M205,168 L225,190 L240,182"/>
<path class="d" d="M190,165 L175,200 L150,250 L120,300 M205,175 L190,215 L165,262 M110,250 L130,242 L145,262 L120,272 Z M215,200 H262 V250 H215 M230,200 L225,175 M262,215 H300 L305,262 L275,280 M300,215 H380 L400,235 L395,262 M380,215 L372,250 L400,290 L432,302"/>
<path class="l" d="M250,150 L235,165 M265,175 L240,200 M262,250 L275,280 M170,300 L210,340 L262,300 L320,285 M150,250 L175,330 L215,380 M120,300 L150,350 L200,400"/>

<path class="d" d="M432,302 L460,345 H540 M400,290 L430,345"/>


<!-- right ribbed hose -->
<path class="d" d="M600,260 Q630,235 665,232 L700,225 M590,290 Q600,330 640,345 L700,360 M600,260 L590,290 M615,300 Q625,322 650,328 L700,340 M640,250 L648,275 M670,238 L678,262 M600,350 Q605,400 640,420 L700,445 M620,345 L628,372 M650,365 L640,395 M680,375 L672,405 M585,380 L600,440 L650,470"/>
<path class="l" d="M655,215 Q680,205 700,215 M660,262 L700,255 M640,420 L630,450 M600,180 Q650,170 700,172"/>
<path class="d" d="M520,395 L535,385 L545,440 L528,448 Z"/>
</g>
</g>
<g clip-path="url(#cm)">
<g transform="translate(290,430) scale(0.257143)">
<!-- break (jagged) line -->
<path class="l" d="M365,95 L355,100 L362,108 L350,115 L360,125 L348,130 M345,150 L338,158 L346,165 L335,172 M330,195 L322,205 L332,212 L325,222 L335,232 L328,245 L338,255 L330,268 L342,280 L335,292"/>
<path class="l" d="M360,60 L372,70 L365,80 L378,88 M400,60 L410,75 L402,88 L415,98 L405,112 L418,122 L408,135 M385,100 L395,110 L388,120"/>
<path class="d" d="M400,45 L415,40 L432,48 L428,70 L412,95 L400,88 L408,62 Z M418,50 L412,80"/>
<!-- horizontals middle-left -->
<path class="l" d="M100,155 H290 M100,170 H290 M100,185 H250 M100,235 H330 M100,245 H325 M300,242 H330"/>
<!-- wavy cable top -->
<path class="d" d="M238,38 L250,48 L262,40 L275,50 L300,45 L330,52 L360,48 L395,52 M245,45 L240,60 M262,40 L268,55"/>
<!-- ribs on right hose -->
<path class="d" d="M425,160 Q412,200 420,240 Q428,270 455,285 L500,295 M440,165 Q428,200 435,235 Q442,260 462,270 L500,278"/>
<path class="l" d="M422,175 L438,178 M418,195 L432,198 M417,215 L432,215 M420,235 L435,230 M428,255 L442,247 M442,272 L452,260 M460,282 L466,270 M480,290 L484,276"/>
<!-- ribs on left hose -->
<path class="d" d="M78,150 Q95,200 88,240 Q82,265 60,285 M62,150 Q80,200 73,238 Q68,258 48,275"/>
<path class="l" d="M66,168 L82,165 M72,188 L88,186 M75,208 L90,208 M74,228 L89,230 M68,248 L84,252 M58,264 L72,272"/>
<!-- more lower arcs -->
<path class="d" d="M0,345 Q150,318 330,335 Q420,348 470,385 Q495,410 500,447 M0,360 Q150,333 325,350 Q410,362 455,398 Q478,420 482,447"/>
<path class="l" d="M0,330 Q150,305 335,322 Q430,335 482,372 Q510,398 518,447 M320,300 L340,335 M340,290 L362,330 M100,300 L75,335 M120,320 L100,345 M440,300 L455,335 L500,360 M470,300 V335"/>
<path class="d" d="M352,350 V447 M366,352 V447 M352,395 H366 M352,405 H366"/>
<path class="l" d="M300,340 H345 V355 H300 Z"/>
</g>
</g>
<g clip-path="url(#cm)">
<g><path class="d" d="M204.4,431.9 L208.2,430.2 L210.9,427.3 L214.6,425.5 L217.3,422.6 L221.0,420.9 L223.7,418.0 L227.4,416.2 L230.1,413.3 L234.9,418.7 L231.6,421.0 L229.5,424.5 L226.2,426.8 L224.0,430.3 L220.8,432.6 L218.6,436.1 L215.4,438.3 L213.2,441.8"/>
<path class="l" d="M208.2,430.2 L215.4,438.3 M210.9,427.3 L218.6,436.1 M214.6,425.5 L220.8,432.6 M217.3,422.6 L224.0,430.3 M221.0,420.9 L226.2,426.8 M223.7,418.0 L229.5,424.5 M227.4,416.2 L231.6,421.0"/>
<ellipse class="k" cx="207.3" cy="438.2" rx="3.9" ry="6" transform="rotate(-20 207.3 438.2)" style="fill:#fff"/>
<ellipse class="d" cx="207.3" cy="438.2" rx="2.3" ry="3.4" transform="rotate(-20 207.3 438.2)"/>
<path class="d" d="M203.5,431 L201,430 L199.5,445 L204,446.5 M212,446 L220,452 L222,470 M203,446 L210,455 M230,411 L226,408.5 M234.5,421.5 L238,423"/>
</g>
<g transform="translate(688,0) scale(-1,1)"><path class="d" d="M204.4,431.9 L208.2,430.2 L210.9,427.3 L214.6,425.5 L217.3,422.6 L221.0,420.9 L223.7,418.0 L227.4,416.2 L230.1,413.3 L234.9,418.7 L231.6,421.0 L229.5,424.5 L226.2,426.8 L224.0,430.3 L220.8,432.6 L218.6,436.1 L215.4,438.3 L213.2,441.8"/>
<path class="l" d="M208.2,430.2 L215.4,438.3 M210.9,427.3 L218.6,436.1 M214.6,425.5 L220.8,432.6 M217.3,422.6 L224.0,430.3 M221.0,420.9 L226.2,426.8 M223.7,418.0 L229.5,424.5 M227.4,416.2 L231.6,421.0"/>
<ellipse class="k" cx="207.3" cy="438.2" rx="3.9" ry="6" transform="rotate(-20 207.3 438.2)" style="fill:#fff"/>
<ellipse class="d" cx="207.3" cy="438.2" rx="2.3" ry="3.4" transform="rotate(-20 207.3 438.2)"/>
<path class="d" d="M203.5,431 L201,430 L199.5,445 L204,446.5 M212,446 L220,452 L222,470 M203,446 L210,455 M230,411 L226,408.5 M234.5,421.5 L238,423"/>
</g>
</g>

<g id="arrows">
<line x1="108.1" y1="173.1" x2="162.1" y2="138.0" stroke="#000" stroke-width="1.05"/><polygon points="167.9,134.3 162.6,142.3 162.1,138.0 158.4,135.9" fill="#000"/>
<line x1="279.0" y1="382.1" x2="314.5" y2="412.4" stroke="#000" stroke-width="1.05"/><polygon points="319.7,416.9 310.5,414.1 314.5,412.4 315.5,408.3" fill="#000"/>
<line x1="381.5" y1="357.3" x2="347.3" y2="375.5" stroke="#000" stroke-width="1.05"/><polygon points="341.2,378.7 347.2,371.2 347.3,375.5 350.8,377.9" fill="#000"/>
<line x1="355.0" y1="395.0" x2="310.1" y2="427.7" stroke="#000" stroke-width="1.05"/><polygon points="304.6,431.7 309.5,423.4 310.1,427.7 314.0,429.6" fill="#000"/>
<line x1="355.0" y1="395.0" x2="346.2" y2="425.1" stroke="#000" stroke-width="1.05"/><polygon points="344.3,431.7 343.1,422.2 346.2,425.1 350.4,424.3" fill="#000"/>
<line x1="602.9" y1="356.3" x2="542.0" y2="341.4" stroke="#000" stroke-width="1.05"/><polygon points="535.3,339.8 544.8,338.2 542.0,341.4 542.9,345.6" fill="#000"/>
<line x1="466.8" y1="383.6" x2="499.2" y2="345.5" stroke="#000" stroke-width="1.05"/><polygon points="503.6,340.3 500.8,349.5 499.2,345.5 495.0,344.5" fill="#000"/>
<line x1="202.0" y1="284.9" x2="168.2" y2="329.0" stroke="#000" stroke-width="1.05"/><polygon points="164.0,334.4 166.3,325.1 168.2,329.0 172.4,329.7" fill="#000"/>
<line x1="202.0" y1="284.9" x2="182.0" y2="326.7" stroke="#000" stroke-width="1.05"/><polygon points="179.0,332.9 179.4,323.3 182.0,326.7 186.2,326.6" fill="#000"/>
<line x1="202.0" y1="284.9" x2="179.5" y2="384.1" stroke="#000" stroke-width="1.05"/><polygon points="178.0,390.8 176.2,381.4 179.5,384.1 183.7,383.1" fill="#000"/>
<line x1="102.3" y1="333.8" x2="159.6" y2="361.4" stroke="#000" stroke-width="1.05"/><polygon points="165.8,364.4 156.2,364.0 159.6,361.4 159.5,357.2" fill="#000"/>
<line x1="111.4" y1="410.9" x2="166.2" y2="375.5" stroke="#000" stroke-width="1.05"/><polygon points="172.0,371.8 166.7,379.8 166.2,375.5 162.5,373.4" fill="#000"/>
<line x1="557.2" y1="259.4" x2="526.3" y2="298.6" stroke="#000" stroke-width="1.05"/><polygon points="522.0,304.0 524.5,294.7 526.3,298.6 530.4,299.4" fill="#000"/>
<line x1="557.2" y1="259.4" x2="552.4" y2="319.1" stroke="#000" stroke-width="1.05"/><polygon points="551.9,325.9 548.8,316.8 552.4,319.1 556.4,317.4" fill="#000"/>
<line x1="557.2" y1="259.4" x2="524.4" y2="354.1" stroke="#000" stroke-width="1.05"/><polygon points="522.2,360.6 521.5,351.0 524.4,354.1 528.7,353.5" fill="#000"/>
<line x1="496.4" y1="275.0" x2="516.9" y2="326.1" stroke="#000" stroke-width="1.05"/><polygon points="519.4,332.5 512.6,325.7 516.9,326.1 519.7,322.9" fill="#000"/>
<line x1="427.6" y1="314.0" x2="483.1" y2="309.5" stroke="#000" stroke-width="1.05"/><polygon points="489.9,308.9 481.4,313.4 483.1,309.5 480.8,305.8" fill="#000"/>
<line x1="427.6" y1="314.0" x2="477.4" y2="319.3" stroke="#000" stroke-width="1.05"/><polygon points="484.2,320.0 475.0,322.9 477.4,319.3 475.8,315.3" fill="#000"/>
<line x1="427.6" y1="314.0" x2="484.4" y2="328.6" stroke="#000" stroke-width="1.05"/><polygon points="491.0,330.3 481.5,331.8 484.4,328.6 483.4,324.4" fill="#000"/>
</g>
<g id="labels" transform="translate(0,0.35)" style="filter:grayscale(1)">
<text x="14.6" y="627.3" font-size="13.15" font-weight="bold" text-anchor="start">Torque : N.m (kgf.m, lb-ft)</text>
<text x="258.5" y="125.8" font-size="13.3" font-weight="bold" text-anchor="start">A/T</text>
<text x="252.5" y="348.6" font-size="13.3" font-weight="bold" text-anchor="start">M/T</text>
<text x="99.3" y="181.4" font-size="13.3" font-weight="normal" text-anchor="start">1</text>
<text x="104.3" y="418.8" font-size="13.3" font-weight="normal" text-anchor="start">1</text>
<text x="271.8" y="379.7" font-size="13.3" font-weight="normal" text-anchor="start">2</text>
<text x="604.5" y="360.4" font-size="13.3" font-weight="normal" text-anchor="start">3</text>
<text x="459.2" y="392.2" font-size="13.3" font-weight="normal" text-anchor="start">4</text>
<text x="256.2" y="264.2" font-size="13.3" font-weight="bold" text-anchor="middle">63.7 ~ 83.3</text>
<text x="256.0" y="280.2" font-size="13.3" font-weight="bold" text-anchor="middle">(6.5 ~ 8.5, 47.0 ~ 61.5)</text>
<text x="605.8" y="236.3" font-size="13.3" font-weight="bold" text-anchor="middle">63.7 ~ 83.3</text>
<text x="605.8" y="252.6" font-size="13.3" font-weight="bold" text-anchor="middle">(6.5 ~ 8.5, 47.0 ~ 61.5)</text>
<text x="435.6" y="252.6" font-size="13.3" font-weight="bold" text-anchor="middle">88.3 ~ 107.9</text>
<text x="435.6" y="268.7" font-size="13.3" font-weight="bold" text-anchor="middle">(9.0 ~ 11.0, 65.1 ~ 79.6)</text>
<text x="63.2" y="326.2" font-size="13.3" font-weight="bold" text-anchor="middle">88.3 ~ 107.9</text>
<text x="62.6" y="340.8" font-size="13.3" font-weight="bold" text-anchor="middle">(9.0 ~ 11.0,</text>
<text x="65.2" y="355.2" font-size="13.3" font-weight="bold" text-anchor="middle">65.1 ~ 79.6)</text>
<text x="391.5" y="299.6" font-size="13.3" font-weight="bold" text-anchor="middle">58.8 ~ 73.5</text>
<text x="391.2" y="314.3" font-size="13.3" font-weight="bold" text-anchor="middle">(6.0 ~ 7.5,</text>
<text x="393.3" y="328.7" font-size="13.3" font-weight="bold" text-anchor="middle">43.4 ~ 54.2)</text>
<text x="420.8" y="348.7" font-size="12" font-weight="bold" text-anchor="middle">107.9 ~ 127.5</text>
<text x="420.5" y="361.3" font-size="12" font-weight="bold" text-anchor="middle">(11.0 ~ 13.0,</text>
<text x="421.7" y="372.7" font-size="12" font-weight="bold" text-anchor="middle">79.6 ~ 94.0)</text>
<text x="389.9" y="392.1" font-size="13.3" font-weight="bold" text-anchor="middle">49.0 ~ 63.7</text>
<text x="390.0" y="407.2" font-size="13.3" font-weight="bold" text-anchor="middle">(5.0 ~ 6.5,</text>
<text x="391.8" y="422.1" font-size="13.3" font-weight="bold" text-anchor="middle">36.2 ~ 47.0)</text>
</g>
</svg>
</body></html>
